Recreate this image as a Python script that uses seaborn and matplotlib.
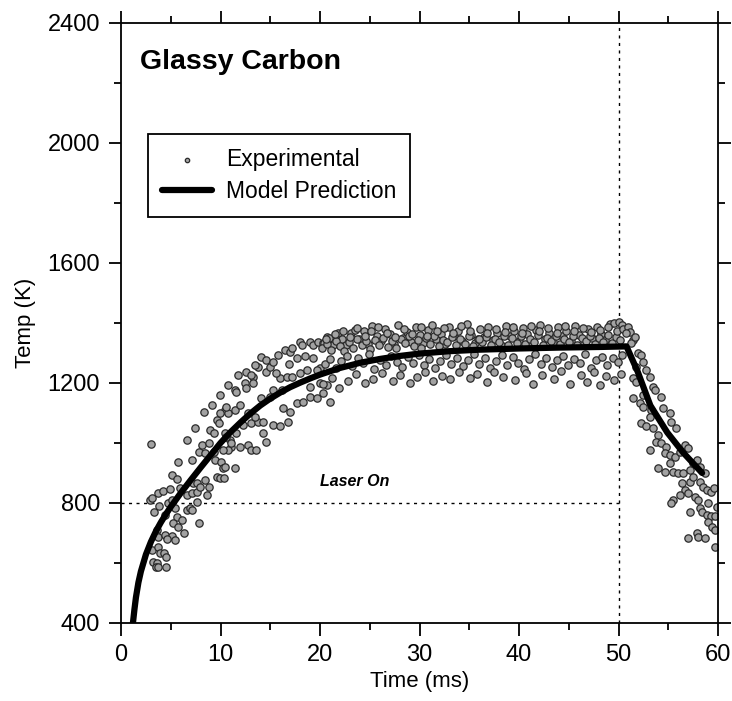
import matplotlib
matplotlib.use("Agg")
import matplotlib.pyplot as plt
import seaborn as sns
import pandas as pd
from matplotlib.ticker import MultipleLocator

# ---------------- data ----------------
rise_pts = [
    (3.0, 997), (3.35, 771), (2.9, 810), (3.1, 817), (3.75, 833), (4.25, 841), (4.9, 847), (5.1, 893),
    (5.6, 880), (5.9, 850), (3.85, 790), (4.4, 760), (4.75, 800), (5.1, 810), (5.4, 783), (5.6, 754),
    (5.25, 733), (5.75, 720), (6.3, 701), (6.1, 743), (3.6, 710), (3.5, 693), (3.75, 688), (4.4, 693),
    (5.1, 690), (4.6, 680), (5.4, 677), (3.1, 643), (3.75, 654), (3.9, 633), (4.35, 633), (4.5, 621),
    (3.25, 604), (3.6, 601), (3.5, 587), (3.75, 587), (4.5, 587), (6.6, 777), (6.95, 783), (7.1, 777),
    (7.6, 804), (7.8, 734), (6.6, 827), (7.1, 833), (7.6, 838), (7.25, 867), (7.6, 867), (7.95, 854),
    (8.45, 877), (8.8, 854), (8.6, 827), (5.75, 938), (7.1, 943), (7.8, 971), (8.45, 967), (8.1, 993),
    (8.8, 1000), (9.3, 971), (9.45, 943), (10.1, 938), (9.6, 888), (9.95, 883), (10.4, 883), (10.3, 917),
    (7.45, 1050), (6.6, 1010), (8.3, 1104), (9.1, 1127), (9.95, 1160), (9.6, 1077), (9.8, 1066), (8.95, 1043),
    (9.3, 1032), (10.8, 1193), (10.45, 1110), (10.8, 1099), (10.45, 1033), (10.95, 1010), (11.1, 988), (10.8, 977),
]
growth_pts = [
    (10.45, 921), (11.45, 917), (10.3, 977), (11.1, 999), (11.95, 988), (12.8, 993), (13.1, 977), (13.6, 977),
    (10.6, 1021), (11.6, 1032), (12.3, 1060), (13.1, 1066), (13.8, 1071), (14.3, 1032), (14.6, 1004), (15.3, 1060),
    (16.0, 1055), (16.8, 1071), (9.95, 1099), (10.6, 1121), (11.45, 1110), (11.95, 1127), (12.8, 1099), (13.5, 1088),
    (14.3, 1071), (14.1, 1149), (15.0, 1154), (15.3, 1177), (16.15, 1177), (16.3, 1116), (17.0, 1104), (17.65, 1132),
    (18.3, 1138), (19.0, 1154), (19.7, 1149), (20.3, 1166), (11.45, 1177), (12.5, 1199), (13.3, 1221),
    (12.6, 1238), (13.1, 1227), (13.8, 1254), (14.6, 1238), (15.0, 1254), (16.0, 1216), (16.65, 1221), (17.15, 1221),
    (18.0, 1232), (19.0, 1188), (20.0, 1199), (20.7, 1193), (11.8, 1227), (13.5, 1260), (14.1, 1288), (14.6, 1277),
    (15.3, 1271), (15.8, 1293), (16.5, 1310), (17.0, 1304), (17.15, 1316), (18.0, 1338), (18.15, 1327), (19.0, 1338),
    (19.3, 1327), (19.8, 1338), (20.3, 1332), (20.7, 1354), (19.3, 1282), (20.0, 1249), (19.7, 1243), (17.65, 1282),
    (18.65, 1243), (12.6, 1183), (13.3, 1199), (11.6, 1171), (15.6, 1232), (16.9, 1262), (18.5, 1290),
]
plateau_upper = [
    (20.4, 1332), (20.9, 1351), (21.3, 1325), (21.8, 1368), (22.2, 1345), (22.6, 1327), (23.1, 1366), (23.5, 1378),
    (23.9, 1345), (24.4, 1372), (24.8, 1331), (25.2, 1390), (25.7, 1356), (26.1, 1340), (26.5, 1381), (27.0, 1362),
    (27.4, 1329), (27.8, 1393), (28.3, 1350), (28.7, 1371), (29.1, 1338), (29.6, 1385), (30.0, 1359), (30.4, 1333),
    (30.9, 1376), (31.3, 1392), (31.7, 1347), (32.2, 1364), (32.6, 1330), (33.0, 1388), (33.5, 1355), (33.9, 1372),
    (34.3, 1341), (34.8, 1395), (35.2, 1360), (35.6, 1334), (36.1, 1379), (36.5, 1352), (36.9, 1386), (37.4, 1343),
    (37.8, 1368), (38.2, 1328), (38.7, 1390), (39.1, 1357), (39.5, 1374), (40.0, 1339), (40.4, 1383), (40.8, 1362),
    (41.3, 1331), (41.7, 1377), (42.1, 1394), (42.6, 1348), (43.0, 1366), (43.4, 1336), (43.9, 1385), (44.3, 1356),
    (44.7, 1372), (45.2, 1340), (45.6, 1391), (46.0, 1361), (46.5, 1333), (46.9, 1379), (47.3, 1350), (47.8, 1387),
    (48.2, 1364), (48.6, 1343), (49.1, 1396), (49.5, 1399), (50.0, 1404), (50.3, 1393),
]
plateau_upper2 = [
    (20.2, 1318), (20.7, 1330), (21.1, 1309), (21.6, 1341), (22.0, 1322), (22.4, 1305), (22.9, 1336), (23.3, 1315),
    (23.7, 1347), (24.2, 1326), (24.6, 1339), (25.0, 1312), (25.5, 1344), (25.9, 1328), (26.3, 1351), (26.8, 1321),
    (27.2, 1340), (27.6, 1316), (28.1, 1346), (28.5, 1333), (28.9, 1355), (29.4, 1324), (29.8, 1342), (30.2, 1318),
    (30.7, 1349), (31.1, 1330), (31.5, 1356), (32.0, 1322), (32.4, 1343), (32.8, 1335), (33.3, 1352), (33.7, 1326),
    (34.1, 1346), (34.6, 1331), (35.0, 1357), (35.4, 1324), (35.9, 1348), (36.3, 1336), (36.7, 1353), (37.2, 1328),
    (37.6, 1345), (38.0, 1338), (38.5, 1358), (38.9, 1327), (39.3, 1349), (39.8, 1334), (40.2, 1355), (40.6, 1329),
    (41.1, 1347), (41.5, 1337), (41.9, 1359), (42.4, 1326), (42.8, 1350), (43.2, 1339), (43.7, 1356), (44.1, 1330),
    (44.5, 1348), (45.0, 1335), (45.4, 1358), (45.8, 1327), (46.3, 1351), (46.7, 1340), (47.1, 1357), (47.6, 1331),
    (48.0, 1349), (48.4, 1338), (48.9, 1360), (49.3, 1332), (49.7, 1353), (50.1, 1344),
]
plateau_upper3 = [
    (20.6, 1345), (21.5, 1362), (22.3, 1374), (23.0, 1352), (23.7, 1383), (24.5, 1358), (25.1, 1372), (25.8, 1385),
    (26.7, 1366), (27.5, 1352), (28.4, 1379), (29.2, 1364), (30.1, 1386), (30.8, 1357), (31.8, 1374), (32.5, 1383),
    (33.4, 1366), (34.2, 1389), (35.1, 1373), (36.0, 1348), (36.8, 1368), (37.7, 1381), (38.6, 1371), (39.4, 1386),
    (40.3, 1368), (41.2, 1389), (42.0, 1372), (42.9, 1382), (43.8, 1368), (44.6, 1389), (45.5, 1374), (46.4, 1384),
    (47.2, 1369), (48.1, 1378), (48.9, 1385), (49.8, 1372), (50.5, 1380),
]
plateau_mid = [
    (20.5, 1262), (21.0, 1281), (21.6, 1250), (22.1, 1274), (22.7, 1290), (23.2, 1258), (23.8, 1283), (24.3, 1266),
    (24.9, 1295), (25.4, 1247), (26.0, 1277), (26.6, 1261), (27.1, 1289), (27.7, 1270), (28.2, 1253), (28.8, 1285),
    (29.3, 1266), (29.9, 1294), (30.5, 1259), (31.0, 1280), (31.6, 1249), (32.1, 1272), (32.7, 1292), (33.2, 1262),
    (33.8, 1284), (34.4, 1255), (34.9, 1276), (35.5, 1296), (36.0, 1264), (36.6, 1282), (37.1, 1251), (37.7, 1273),
    (38.3, 1293), (38.8, 1260), (39.4, 1286), (39.9, 1268), (40.5, 1248), (41.0, 1279), (41.6, 1297), (42.2, 1263),
    (42.7, 1284), (43.3, 1254), (43.8, 1275), (44.4, 1291), (44.9, 1259), (45.5, 1281), (46.1, 1267), (46.6, 1296),
    (47.2, 1250), (47.7, 1277), (48.3, 1288), (48.8, 1261), (49.4, 1283), (49.9, 1270), (50.3, 1293),
]
plateau_low = [
    (20.3, 1195), (21.2, 1218), (21.9, 1182), (22.8, 1207), (23.6, 1230), (24.5, 1199), (25.3, 1214), (26.2, 1233),
    (27.3, 1208), (28.0, 1226), (29.0, 1201), (29.7, 1219), (30.6, 1237), (31.4, 1205), (32.3, 1224), (33.1, 1212),
    (34.0, 1238), (35.1, 1216), (35.8, 1229), (36.8, 1203), (37.5, 1235), (38.4, 1221), (39.6, 1210), (40.7, 1232),
    (41.4, 1196), (42.3, 1226), (43.5, 1214), (44.2, 1239), (45.1, 1198), (46.2, 1228), (46.8, 1204), (47.5, 1236),
    (48.1, 1193), (48.7, 1222), (49.5, 1209), (50.2, 1231), (21.0, 1137),
]
decay_pts = [
    (50.95, 1388), (51.15, 1371), (50.8, 1366), (51.5, 1343), (51.3, 1332), (51.65, 1354), (52.0, 1299), (52.3, 1293),
    (52.5, 1271), (51.8, 1254), (51.5, 1216), (51.8, 1204), (52.8, 1243), (53.2, 1221), (53.5, 1188), (53.7, 1177),
    (52.5, 1160), (51.5, 1149), (54.3, 1154), (52.2, 1132), (52.5, 1121), (53.3, 1110), (54.5, 1116), (55.2, 1099),
    (53.2, 1088), (52.3, 1066), (52.8, 1055), (53.5, 1049), (54.0, 1027), (55.3, 1071), (55.8, 1049), (53.8, 1004),
    (54.3, 999), (54.8, 988), (54.7, 966), (55.2, 960), (55.7, 954), (56.2, 971), (56.7, 993), (57.0, 982),
    (53.2, 977), (55.2, 932), (54.0, 916), (54.7, 904), (55.5, 904), (56.0, 899), (56.5, 899), (57.2, 910),
    (57.5, 932), (57.85, 943), (58.2, 921), (58.7, 899), (56.35, 866), (57.2, 871), (57.5, 888), (58.2, 871),
    (56.7, 843), (57.0, 832), (56.2, 827), (57.7, 821), (58.0, 810), (58.5, 854), (58.9, 843), (59.3, 838),
    (59.6, 849), (55.5, 810), (55.3, 799), (57.2, 771), (58.2, 782), (58.4, 771), (59.0, 799), (58.9, 760),
    (59.3, 755), (59.7, 755), (59.0, 738), (59.4, 721), (59.7, 710), (57.9, 699), (57.0, 682), (58.0, 688),
    (58.7, 682), (59.7, 654), (59.9, 788),
]

model_t = [1.2, 1.35, 1.5, 1.75, 2.0, 2.5, 3.0, 3.5, 4.0, 4.5, 5.0, 6.0, 7.0, 8.0, 9.0, 10.0, 11.0,
           12.0, 13.0, 14.0, 15.0, 16.0, 17.0, 18.0, 19.0, 20.0, 22.0, 24.0, 26.0, 28.0, 30.0, 33.0,
           36.0, 40.0, 44.0, 48.0, 50.8, 51.9, 53.2, 54.9, 56.5, 58.4]
model_T = [400, 445, 485, 535, 572, 628, 670, 705, 735, 762, 787, 833, 876, 918, 959, 1000, 1036,
           1068, 1098, 1125, 1148, 1168, 1186, 1201, 1215, 1228, 1250, 1267, 1280, 1290, 1298, 1306,
           1311, 1315, 1318, 1320, 1322, 1240, 1125, 1035, 968, 900]

laser_off_time = 50
laser_level = 800

# ---------------- figure ----------------
sns.set_style("ticks")
plt.rcParams["font.family"] = ["Liberation Sans", "DejaVu Sans"]
plt.rcParams.update({"text.color": "black", "axes.labelcolor": "black",
                     "xtick.color": "black", "ytick.color": "black"})

fig = plt.figure(figsize=(7.32, 7.01), dpi=100)
ax = fig.add_axes([0.1653, 0.1113, 0.8156, 0.8559])

all_pts = (rise_pts + growth_pts + plateau_upper + plateau_upper2 + plateau_upper3
           + plateau_mid + plateau_low + decay_pts)
exp_df = pd.DataFrame(all_pts, columns=["Time", "Temp"])
model_df = pd.DataFrame({"Time": model_t, "Temp": model_T})

# reference lines
ax.plot([0, laser_off_time], [laser_level, laser_level], color="black", lw=1.0,
        linestyle=(0, (2.2, 3.2)), zorder=1)
ax.plot([laser_off_time, laser_off_time], [400, 2400], color="black", lw=1.0,
        linestyle=(0, (2.2, 3.2)), zorder=1)

sns.scatterplot(data=exp_df, x="Time", y="Temp", ax=ax, s=28, color="#a2a2a2",
                edgecolor="#2a2a2a", linewidth=0.9, label="Experimental", zorder=2)
sns.lineplot(data=model_df, x="Time", y="Temp", ax=ax, sort=False, estimator=None,
             color="black", linewidth=4.5, label="Model Prediction", zorder=3)

ax.set_xlim(0, 60)
ax.set_ylim(400, 2400)
ax.xaxis.set_major_locator(MultipleLocator(10))
ax.xaxis.set_minor_locator(MultipleLocator(5))
ax.yaxis.set_major_locator(MultipleLocator(400))
ax.yaxis.set_minor_locator(MultipleLocator(200))

for sp in ax.spines.values():
    sp.set_visible(True)
    sp.set_linewidth(1.3)
    sp.set_color("black")

ax.tick_params(which="both", direction="out", top=True, right=True,
               labeltop=False, labelright=False, color="black", width=1.3)
ax.tick_params(which="major", length=9, labelsize=17, pad=6)
ax.tick_params(which="minor", length=5)

ax.set_xlabel("Time (ms)", fontsize=16, labelpad=4)
ax.set_ylabel("Temp (K)", fontsize=16, labelpad=8)

ax.text(0.032, 0.935, "Glassy Carbon", transform=ax.transAxes, fontsize=20.5,
        fontweight="bold", ha="left", va="center")
ax.text(23.5, 873, "Laser On", fontsize=11.5, fontweight="bold", fontstyle="italic",
        ha="center", va="center")

leg = ax.legend(loc="upper left", bbox_to_anchor=(0.045, 0.815), borderaxespad=0,
                fontsize=16.5, frameon=True, fancybox=False, edgecolor="black",
                framealpha=1, handlelength=2.2, handletextpad=0.6, borderpad=0.6,
                labelspacing=0.4, markerscale=0.6)
leg.get_frame().set_linewidth(1.3)

fig.savefig("out.png", dpi=100)
